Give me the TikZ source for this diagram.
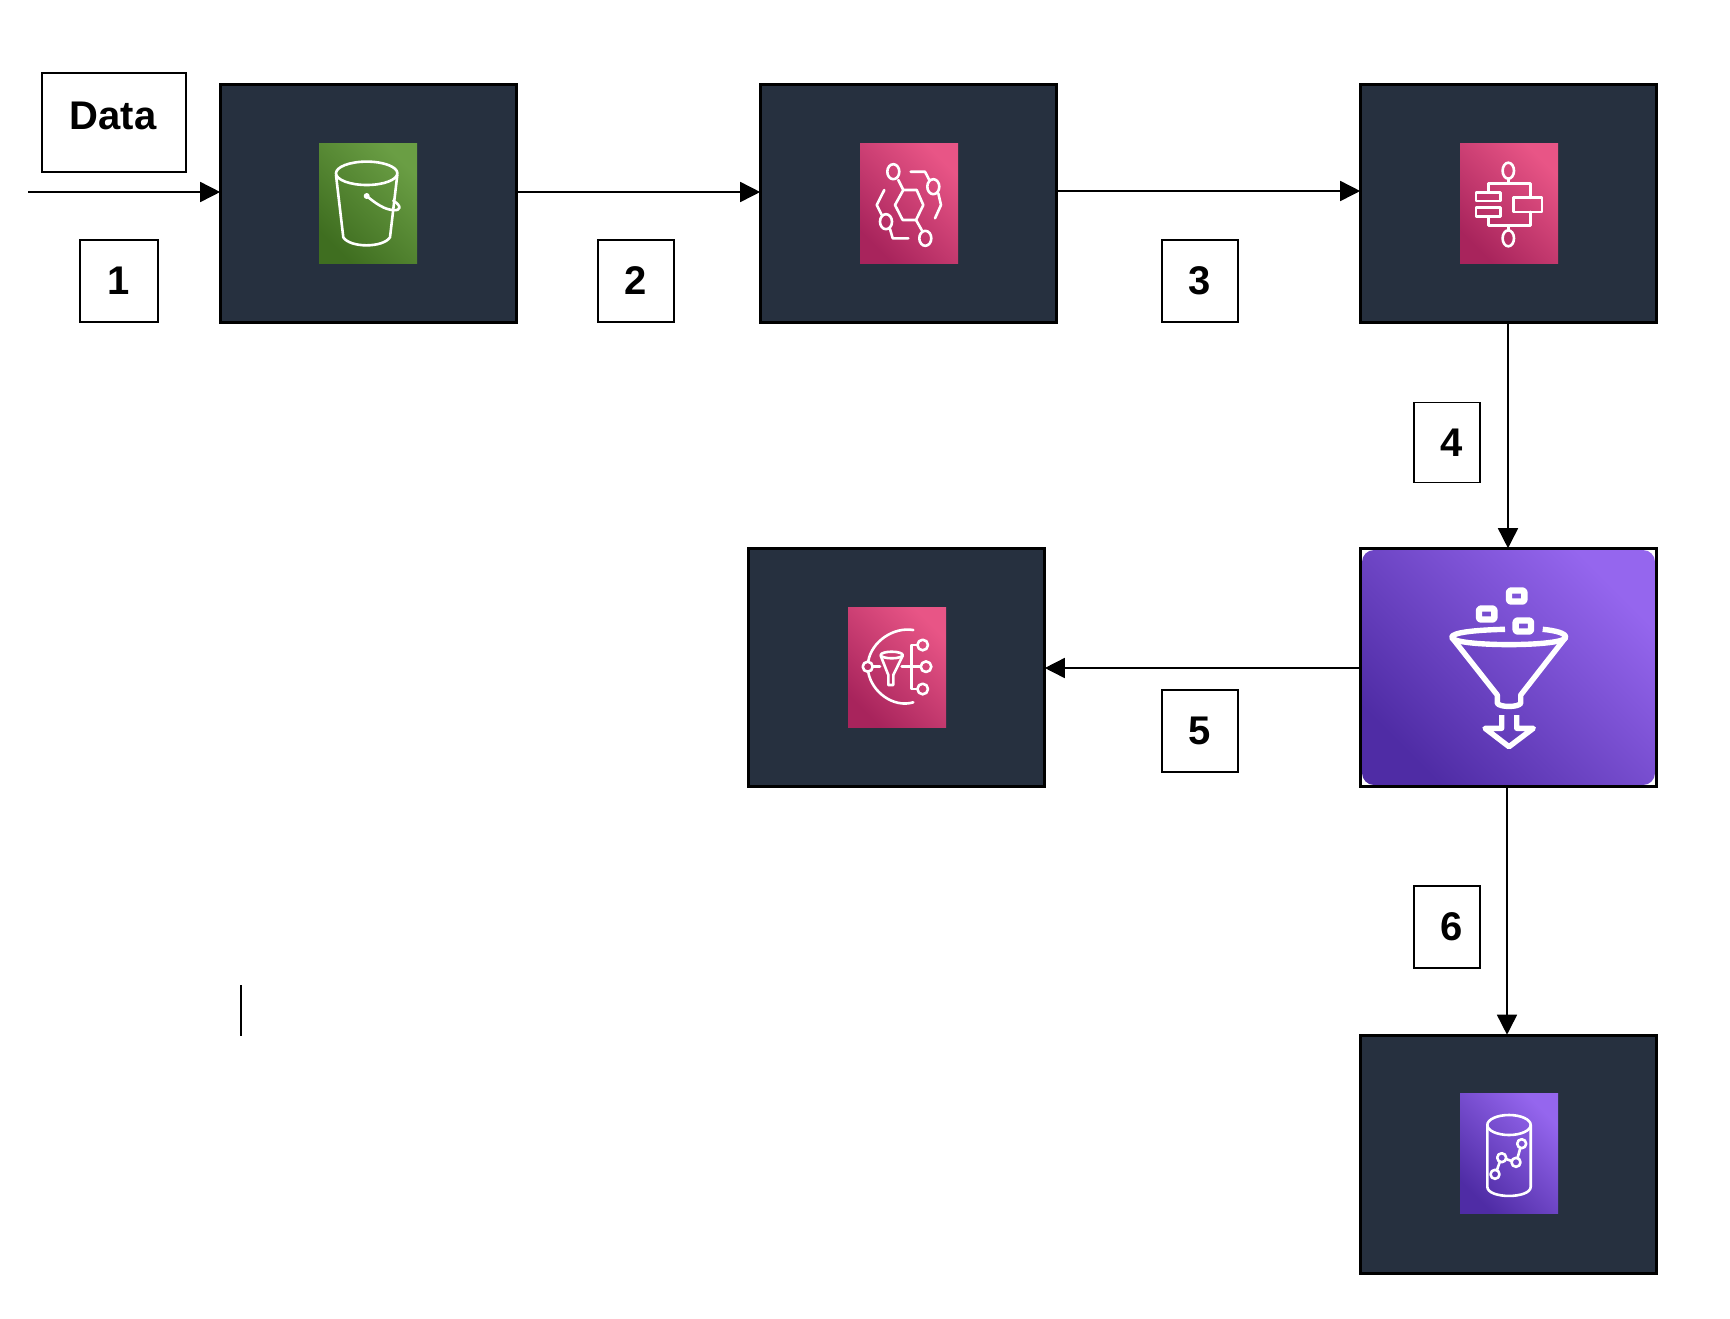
\documentclass[tikz,border=0pt]{standalone}
\usepackage{fontspec}
\setmainfont{Liberation Sans}
\usetikzlibrary{arrows.meta}
\definecolor{awsdark}{HTML}{26303F}
\definecolor{greenlow}{HTML}{3F6E20}
\definecolor{greenhigh}{HTML}{6A9E44}
\definecolor{pinklow}{HTML}{A8245C}
\definecolor{pinkhigh}{HTML}{E85586}
\definecolor{purplelow}{HTML}{4F2CA5}
\definecolor{purplehigh}{HTML}{9566EE}
\tikzset{
  awsbox/.style={draw=black,fill=awsdark,line width=1.5pt,minimum width=148pt,minimum height=119pt,inner sep=0pt},
  iconbox/.style={minimum width=49pt,minimum height=60pt,inner sep=0pt,shading angle=-45},
  greenicon/.style={iconbox,bottom color=greenlow,top color=greenhigh,shading angle=-45},
  pinkicon/.style={iconbox,bottom color=pinklow,top color=pinkhigh,shading angle=-45},
  purpleicon/.style={iconbox,bottom color=purplelow,top color=purplehigh,shading angle=-45},
  stepbox/.style={draw=black,fill=white,line width=0.7pt,inner sep=0pt,font=\fontsize{20}{21}\selectfont\bfseries},
  flow/.style={-{Triangle[length=10pt,width=10pt]},black,line width=0.8pt,shorten >=-0.6pt},
  glyph/.style={draw=white,line width=1.3pt,line join=round,line cap=round},
  bigglyph/.style={draw=white,line width=2.7pt,line join=round},
  cubeglyph/.style={draw=white,line width=3.2pt,line join=round,rounded corners=1pt}
}
\begin{document}
\begin{tikzpicture}[x=0.5pt,y=-0.5pt]
    \useasboundingbox (0,0) rectangle (1730,1318);

    % service boxes
    \node (s3) at (368.5,203.5) [awsbox] {};
    \node (bridge) at (908.5,203.5) [awsbox] {};
    \node (states) at (1508.5,203.5) [awsbox] {};
    \node (sns) at (896.5,667.5) [awsbox] {};
    \node (firehoseicon) at (1508.5,667.5) [rounded corners=6pt,minimum width=146.5pt,minimum height=117.5pt,inner sep=0pt,bottom color=purplelow,top color=purplehigh,shading angle=-45] {};
    \node (firehose) at (1508.5,667.5) [awsbox,fill=none] {};
    \node (athena) at (1508.5,1154) [awsbox] {};

    \node (s3icon) at (368,203.5) [greenicon] {};
    \node (bridgeicon) at (909,203.5) [pinkicon] {};
    \node (statesicon) at (1509,203.5) [pinkicon] {};
    \node (snsicon) at (897,667) [pinkicon] {};
    \node (athenaicon) at (1509,1153) [purpleicon] {};

    % bucket
    \draw[glyph] (366.7,173.3) ellipse [x radius=30.7,y radius=11.7];
    \draw[glyph] (336,175) -- (343.3,237.3) .. controls (350,248) and (383,248) .. (390,237.3) -- (397.3,175);
    \draw[glyph] (366.7,196) .. controls (375,203) and (385,210) .. (393.3,210) .. controls (401,211) and (402,206) .. (393.3,200.7);
    \fill[white] (366.7,196) circle [radius=3];

    % bridge
    \draw[glyph] (895,205) -- (903.3,190) -- (916.7,190) -- (923.3,205) -- (916,220) -- (902.7,220) -- cycle;
    \draw[glyph] (893.3,171.7) ellipse [x radius=6,y radius=7.5];
    \draw[glyph] (925.3,238.3) ellipse [x radius=6,y radius=7.5];
    \draw[glyph] (933.3,186.7) ellipse [x radius=6,y radius=7.5];
    \draw[glyph] (886,221.7) ellipse [x radius=6,y radius=7.5];
    \draw[glyph] (898.3,180) -- (903.3,190);
    \draw[glyph] (916,220) -- (921.7,230);
    \draw[glyph] (910.7,171.7) -- (925,171.7) -- (929.3,180);
    \draw[glyph] (938.3,193.3) -- (941,205) -- (935,218.3);
    \draw[glyph] (884.3,190) -- (876.7,205) -- (881.7,215);
    \draw[glyph] (890,229) -- (892.7,238.3) -- (908.3,238.3);

    % state machine
    \draw[glyph] (1508.3,170.7) ellipse [x radius=5.7,y radius=8];
    \draw[glyph] (1508.3,238.3) ellipse [x radius=5.7,y radius=8];
    \draw[glyph] (1476,192.3) rectangle (1500.7,201);
    \draw[glyph] (1476,207.7) rectangle (1500.7,216.7);
    \draw[glyph] (1513.3,197.7) rectangle (1542,212);
    \draw[glyph] (1508.3,178.7) -- (1508.3,183.3);
    \draw[glyph] (1488.3,192.3) -- (1488.3,183.3) -- (1530.7,183.3) -- (1530.7,197.7);
    \draw[glyph] (1488.3,216.7) -- (1488.3,225.7) -- (1530.7,225.7) -- (1530.7,212);
    \draw[glyph] (1508.3,225.7) -- (1508.3,230.3);

    % fan out
    \draw[glyph] (913.3,630) .. controls (893.3,626.7) and (871.7,641.7) .. (868.3,661);
    \draw[glyph] (868.3,672.3) .. controls (871.7,691.7) and (893.3,708.3) .. (913.3,702.3);
    \draw[glyph] (867.7,666.7) circle [radius=5];
    \draw[glyph] (872.7,666.7) -- (880,666.7);
    \draw[glyph] (891.7,655) ellipse [x radius=11,y radius=3.3];
    \draw[glyph] (880.7,655.7) -- (888.3,675) -- (888.3,685) -- (893.3,685) -- (893.3,675) -- (902.7,655.7);
    \draw[glyph] (901.7,666.7) -- (920.7,666.7);
    \draw[glyph] (917.3,645) -- (911.7,645) -- (911.7,689) -- (917.3,689);
    \draw[glyph] (922.7,645) circle [radius=5.3];
    \draw[glyph] (926,666.7) circle [radius=5.3];
    \draw[glyph] (922.7,689) circle [radius=5.3];

    % cylinder
    \draw[glyph] (1509,1125) ellipse [x radius=21.7,y radius=10];
    \draw[glyph] (1487.3,1125) -- (1487.3,1186.7) .. controls (1487.3,1199) and (1530.7,1199) .. (1530.7,1186.7) -- (1530.7,1125);
    \draw[glyph] (1495,1174.3) circle [radius=4.5];
    \draw[glyph] (1501.7,1157.7) circle [radius=4.5];
    \draw[glyph] (1516,1162.3) circle [radius=4.5];
    \draw[glyph] (1521.7,1143.7) circle [radius=4.5];
    \draw[glyph] (1497,1170) -- (1499.7,1162);
    \draw[glyph] (1506,1159) -- (1511.7,1161);
    \draw[glyph] (1517.5,1158) -- (1520.3,1148);

    % funnel
    \draw[cubeglyph] (1509,590.5) rectangle (1524.4,601.5);
    \draw[cubeglyph] (1479,608.5) rectangle (1494.4,619.5);
    \draw[cubeglyph] (1515.6,620.5) rectangle (1531,631.5);
    \draw[bigglyph] (1505,629.3) .. controls (1475,630) and (1451.7,632.5) .. (1451.7,637.3) .. controls (1451.7,642) and (1480,644.6) .. (1509,644.6) .. controls (1538,644.6) and (1565.7,642) .. (1565.7,637.3) .. controls (1565.7,633) and (1555,630.5) .. (1542.7,629.3);
    \draw[bigglyph] (1451.7,637.3) -- (1497.3,695) -- (1497.3,703.3) .. controls (1500,707.5) and (1518,707.5) .. (1520.7,703.3) -- (1520.7,695) -- (1565.7,637.3);
    \draw[bigglyph] (1501.7,715) -- (1501.7,728.3) -- (1485,728.3) -- (1509,746.7) -- (1533.3,728.3) -- (1516.7,728.3) -- (1516.7,715);

    % flow labels
    \node (datalabel) at (114,122.5) [stepbox,minimum width=72pt,minimum height=49.5pt,text height=14.3pt,text depth=7.8pt] {\hspace{-1pt}Data};
    \node (step1) at (119,281) [stepbox,minimum width=39pt,minimum height=41pt] {1};
    \node (step2) at (636,281) [stepbox,minimum width=38pt,minimum height=41pt] {2};
    \node (step3) at (1200,281) [stepbox,minimum width=38pt,minimum height=41pt] {3};
    \node (step4) at (1447,442.5) [stepbox,minimum width=33pt,minimum height=40pt] {\hspace{4.5pt}4};
    \node (step5) at (1200,731) [stepbox,minimum width=38pt,minimum height=41pt] {5};
    \node (step6) at (1447,927) [stepbox,minimum width=33pt,minimum height=41pt] {\hspace{4.5pt}6};

    \coordinate (datain) at (28,192);
    \coordinate (lanefive) at (1400,668);
    \coordinate (lanefour) at (1508,400);
    \coordinate (lanesix) at (1507,900);
    \coordinate (cursortop) at (241,985);
    \coordinate (cursorend) at (241,1036);

    \path[flow]
    (datain) edge (s3.west |- datain)
    (s3.east |- datain) edge (bridge.west |- datain)
    ([yshift=0.5pt]bridge.east |- datain) edge ([yshift=0.5pt]states.west |- datain)
    (states.south -| lanefour) edge (firehose.north -| lanefour)
    (firehose.west |- lanefive) edge (sns.east |- lanefive)
    (firehose.south -| lanesix) edge (athena.north -| lanesix);

    \draw[black,line width=0.6pt] (cursortop) -- (cursorend);
  \end{tikzpicture}
\end{document}
